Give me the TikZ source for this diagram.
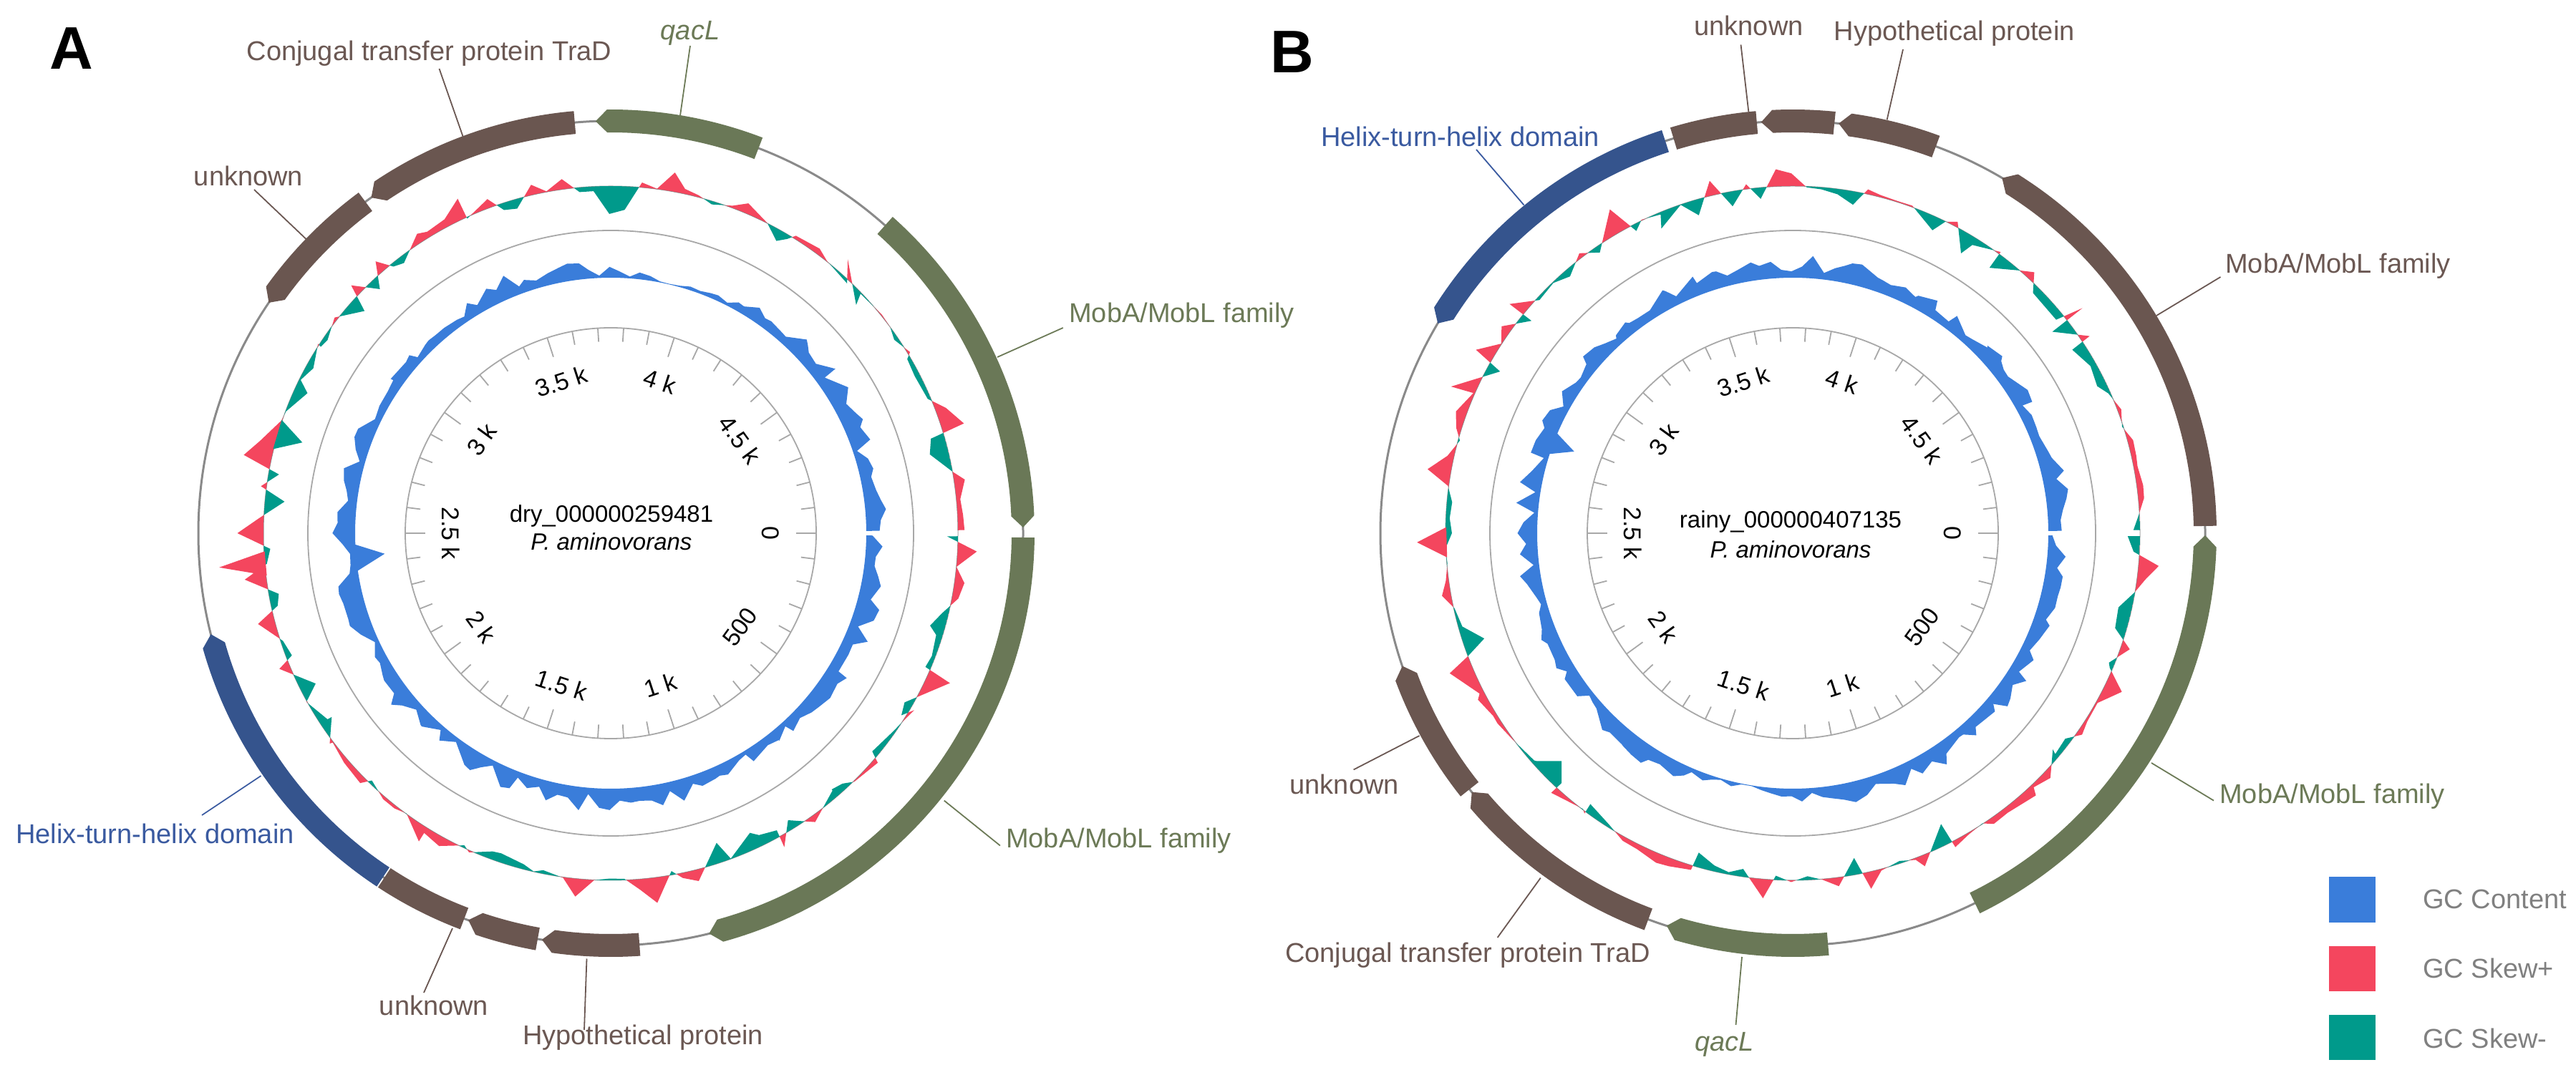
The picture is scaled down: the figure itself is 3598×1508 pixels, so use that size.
\documentclass[tikz,border=0pt]{standalone}
\usepackage{fontspec}
\setmainfont{Liberation Sans}
\definecolor{gbrown}{HTML}{6A5650}
\definecolor{ggreen}{HTML}{6A7857}
\definecolor{gblue}{HTML}{35548D}
\definecolor{tbrown}{HTML}{6B5853}
\definecolor{tgreen}{HTML}{6C7A57}
\definecolor{tblue}{HTML}{3A5AA0}
\definecolor{gcblue}{HTML}{3A7DDA}
\definecolor{skewp}{HTML}{F4465E}
\definecolor{skewn}{HTML}{009A8B}
\definecolor{ringgray}{HTML}{A8A8A8}
\definecolor{bbgray}{HTML}{8A8A8A}
\definecolor{leggray}{HTML}{808080}
\tikzset{
  lab/.style={font=\fontsize{38}{44}\selectfont, inner sep=0pt},
  labB/.style={lab, text=tbrown},
  labG/.style={lab, text=tgreen},
  labGi/.style={labG, font=\fontsize{38}{44}\selectfont\itshape},
  labU/.style={lab, text=tblue},
  leadB/.style={draw=tbrown, line width=1.8},
  leadG/.style={draw=tgreen, line width=1.8},
  leadU/.style={draw=tblue, line width=1.8},
  ticklab/.style={font=\fontsize{34}{40}\selectfont, inner sep=0pt},
  ctext/.style={font=\fontsize{33}{38}\selectfont, inner sep=0pt},
  ringline/.style={draw=ringgray, line width=1.8},
  legtext/.style={font=\fontsize{38}{44}\selectfont, text=leggray, inner sep=0pt, anchor=west},
  legbox/.style={inner sep=0pt, minimum width=65, minimum height=63},
  panel/.style={font=\fontsize{84}{90}\selectfont\bfseries, inner sep=0pt},
}
\newcommand{\mapbase}[1]{%
  \draw[ringline] (0,0) circle[radius=423];
  \draw[ringline] (0,0) circle[radius=287];
  \foreach \i in {0,...,49}{%
    \pgfmathsetmacro{\tklen}{ifthenelse(mod(\i,5)==0,28,19)}%
    \draw[ringline] ({-\i*7.2}:287) -- ({-\i*7.2}:{287-\tklen});
  }
  \foreach \lab/\ang/\rot [count=\n] in {0/0/-90, 500/-36/54, 1 k/-72/18, 1.5 k/-108/-18, 2 k/-144/-54, 2.5 k/-180/-90, 3 k/144/54, 3.5 k/108/18, 4 k/72/-18, 4.5 k/36/-54}{%
    \node[ticklab, rotate=\rot] (#1tick\n) at (\ang:223) {\lab};
  }
}
\newcommand{\gctrack}[3]{%
  \pgfmathsetseed{#1}%
  \fill[gcblue] plot[domain=0.5:359.5, samples=161, variable=\t] (-\t:{357+(4+30*rnd)*(1-0.85*max(0,1-abs(\t-#2)/#3))}) -- (-359.5:357) arc[start angle=-359.5, end angle=-0.5, radius=357] -- cycle;
}
\newcommand{\skewtrack}[1]{%
  \draw[ringgray, line width=1] (0,0) circle[radius=485];
  \begin{scope}
    \clip (0:760) arc[start angle=0, end angle=360, radius=760] -- (0:485) arc[start angle=0, end angle=-360, radius=485] -- cycle;
    \pgfmathsetseed{#1}%
    \fill[skewp] plot[domain=0.5:359.5, samples=141, variable=\t] (-\t:{485+48*rand*rnd}) -- (-359.5:485) arc[start angle=-359.5, end angle=-0.5, radius=485] -- cycle;
  \end{scope}
  \begin{scope}
    \clip (0,0) circle[radius=485];
    \pgfmathsetseed{#1}%
    \fill[skewn] plot[domain=0.5:359.5, samples=141, variable=\t] (-\t:{485+48*rand*rnd}) -- (-359.5:485) arc[start angle=-359.5, end angle=-0.5, radius=485] -- cycle;
  \end{scope}
}
% gene with head at end angle #2
\newcommand{\geneE}[3]{%
  \fill[#3] (#1:560) -- (#1:592) arc[start angle=#1, end angle={#2-1.6}, radius=592] -- (#2:576) -- ({#2-1.6}:560) arc[start angle={#2-1.6}, end angle=#1, radius=560] -- cycle;}
% gene with head at start angle #1
\newcommand{\geneS}[3]{%
  \fill[#3] (#1:576) -- ({#1+1.6}:592) arc[start angle={#1+1.6}, end angle=#2, radius=592] -- (#2:560) arc[start angle=#2, end angle={#1+1.6}, radius=560] -- cycle;}
% gene without head
\newcommand{\geneN}[3]{%
  \fill[#3] (#1:560) -- (#1:592) arc[start angle=#1, end angle=#2, radius=592] -- (#2:560) arc[start angle=#2, end angle=#1, radius=560] -- cycle;}
\begin{document}
\begin{tikzpicture}[x=1pt, y=1pt]
\useasboundingbox (0,0) rectangle (3598,1508);
\fill[white] (0,0) rectangle (3598,1508);

% ---------------- Panel A ----------------
\begin{scope}[shift={(853,763)}]
  \mapbase{a}
  \gctrack{7}{283}{28}
  \fill[gcblue] (-171.5:358) -- (-174.8:317) -- (-177.5:358) -- cycle;
  \skewtrack{21}
  \fill[skewp] (-173:484) -- (-175:549) -- (-177:484) -- cycle;
  \fill[skewn] (161:486) -- (163.6:449) -- (166:486) -- cycle;
  \draw[bbgray, line width=3] (0,0) circle[radius=576];
  \geneE{95}{125.5}{gbrown}
  \geneE{126.5}{146}{gbrown}
  \geneE{69}{92.1}{ggreen}
  \geneS{0.8}{48.3}{ggreen}
  \geneS{-76.2}{-0.6}{ggreen}
  \geneS{-99.6}{-86}{gbrown}
  \geneS{-110.2}{-100.2}{gbrown}
  \geneN{-123.3}{-110.8}{gbrown}
  \geneS{-165.8}{-123.5}{gblue}
  \node[ctext, anchor=base] (aName) at (1,15) {dry\_000000259481};
  \node[ctext, anchor=base, font=\fontsize{33}{38}\selectfont\itshape] (aSp) at (1,-23.5) {P. aminovorans};
\end{scope}

% ---------------- Panel B ----------------
\begin{scope}[shift={(2504,763)}]
  \mapbase{b}
  \gctrack{5}{100}{25}
  \fill[gcblue] (157:358) -- (159.5:326) -- (162:358) -- cycle;
  \skewtrack{33}
  \fill[skewp] (-176:484) -- (-178.6:525) -- (-181:484) -- cycle;
  \draw[bbgray, line width=3] (0,0) circle[radius=576];
  \geneE{108}{149.4}{gblue}
  \geneN{95}{106.8}{gbrown}
  \geneE{84.2}{94.4}{gbrown}
  \geneE{69.7}{83.6}{gbrown}
  \geneE{1}{59.5}{gbrown}
  \geneE{-63.8}{-0.3}{ggreen}
  \geneS{-107.8}{-85.1}{ggreen}
  \geneS{-141.1}{-110.5}{gbrown}
  \geneS{-161.2}{-141.6}{gbrown}
  \node[ctext, anchor=base] (bName) at (-3,7) {rainy\_000000407135};
  \node[ctext, anchor=base, font=\fontsize{33}{38}\selectfont\itshape] (bSp) at (-3,-34.5) {P. aminovorans};
\end{scope}

% ---------------- Labels A ----------------
\node[labB] (aTraDl) at (599.5,1433) {Conjugal transfer protein TraD};
\coordinate (aTraDs) at (613.5,1412); \coordinate (aTraDg) at (646.7,1317);
\draw[leadB] (aTraDs) -- (aTraDg);
\node[labGi] (aQacl) at (964,1462) {qacL};
\coordinate (aQacs) at (964,1444); \coordinate (aQacg) at (949.6,1343.5);
\draw[leadG] (aQacs) -- (aQacg);
\node[labB] (aUnk1l) at (347,1262.5) {unknown};
\coordinate (aUnk1s) at (355,1243); \coordinate (aUnk1g) at (428.6,1173);
\draw[leadB] (aUnk1s) -- (aUnk1g);
\node[labG, anchor=west] (aMob1l) at (1493,1067) {MobA/MobL family};
\coordinate (aMob1s) at (1484.8,1050); \coordinate (aMob1g) at (1393,1009);
\draw[leadG] (aMob1s) -- (aMob1g);
\node[labG, anchor=west] (aMob2l) at (1405,333) {MobA/MobL family};
\coordinate (aMob2s) at (1396.9,326.5); \coordinate (aMob2g) at (1318.75,389.4);
\draw[leadG] (aMob2s) -- (aMob2g);
\node[labU, anchor=east] (aHthl) at (411,343) {Helix-turn-helix domain};
\coordinate (aHths) at (282,369); \coordinate (aHthg) at (364.5,424);
\draw[leadU] (aHths) -- (aHthg);
\node[labB] (aUnk2l) at (606,103) {unknown};
\coordinate (aUnk2s) at (592,121); \coordinate (aUnk2g) at (632,211);
\draw[leadB] (aUnk2s) -- (aUnk2g);
\node[labB] (aHypl) at (898,58) {Hypothetical protein};
\coordinate (aHyps) at (816,69); \coordinate (aHypg) at (819.5,168.5);
\draw[leadB] (aHyps) -- (aHypg);

% ---------------- Labels B ----------------
\node[labB] (bUnk1l) at (2442.6,1472) {unknown};
\coordinate (bUnk1s) at (2431.5,1445.5); \coordinate (bUnk1g) at (2442.3,1352);
\draw[leadB] (bUnk1s) -- (bUnk1g);
\node[labB] (bHypl) at (2729.7,1461) {Hypothetical protein};
\coordinate (bHyps) at (2658,1439); \coordinate (bHypg) at (2635.6,1340.6);
\draw[leadB] (bHyps) -- (bHypg);
\node[labU, anchor=east] (bHthl) at (2234,1317) {Helix-turn-helix domain};
\coordinate (bHths) at (2062,1299); \coordinate (bHthg) at (2128.5,1221.5);
\draw[leadU] (bHths) -- (bHthg);
\node[labB, anchor=west] (bMob1l) at (3108,1136) {MobA/MobL family};
\coordinate (bMob1s) at (3101.5,1121); \coordinate (bMob1g) at (3012,1067);
\draw[leadB] (bMob1s) -- (bMob1g);
\node[labG, anchor=west] (bMob2l) at (3100,395) {MobA/MobL family};
\coordinate (bMob2s) at (3092,389.4); \coordinate (bMob2g) at (3005,442);
\draw[leadG] (bMob2s) -- (bMob2g);
\node[labB] (bUnk2l) at (1877.7,412.3) {unknown};
\coordinate (bUnk2s) at (1890.6,432.6); \coordinate (bUnk2g) at (1982.5,480);
\draw[leadB] (bUnk2s) -- (bUnk2g);
\node[labB] (bTraDl) at (2050,173) {Conjugal transfer protein TraD};
\coordinate (bTraDs) at (2091.6,198); \coordinate (bTraDg) at (2151.8,281.4);
\draw[leadB] (bTraDs) -- (bTraDg);
\node[labGi] (bQacl) at (2408.7,49) {qacL};
\coordinate (bQacs) at (2424.5,76); \coordinate (bQacg) at (2433,171);
\draw[leadG] (bQacs) -- (bQacg);

% ---------------- Panel letters ----------------
\node[panel] (pA) at (99.5,1440) {A};
\node[panel] (pB) at (1805,1435.5) {B};

% ---------------- Legend ----------------
\node[legbox, fill=gcblue] (legGC) at (3285,251) {};
\node[legbox, fill=skewp] (legSP) at (3285,155) {};
\node[legbox, fill=skewn] (legSN) at (3285,58.8) {};
\node[legtext] (legGCt) at (3384,252) {GC Content};
\node[legtext] (legSPt) at (3384,155) {GC Skew+};
\node[legtext] (legSNt) at (3384,57) {GC Skew-};
\end{tikzpicture}
\end{document}
